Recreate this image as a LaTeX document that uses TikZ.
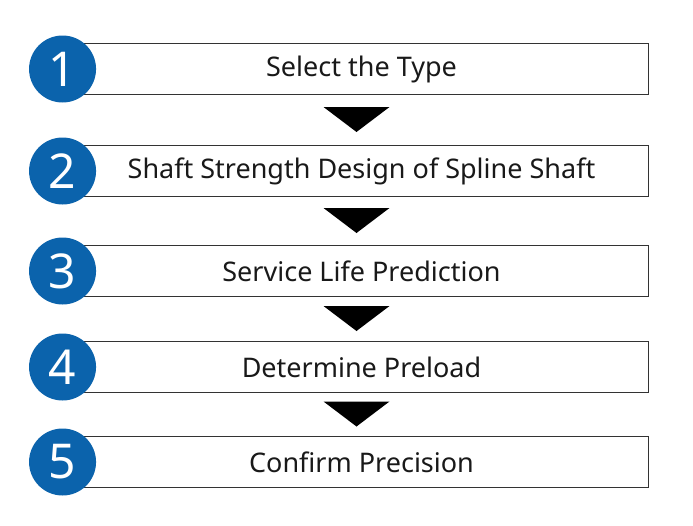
\documentclass[tikz,border=0pt]{standalone}
\usepackage{fontspec}
\setmainfont{Noto Sans}
\usetikzlibrary{positioning,calc}
\definecolor{mblue}{HTML}{0B63AC}
\tikzstyle{l1}=[line width=0.9]
\tikzstyle{stepbox}=[draw=black!80, l1, fill=white, minimum width=583pt, minimum height=51pt, font=\fontsize{27}{30}\selectfont, text=black!90]
\tikzstyle{num}=[circle, fill=mblue, minimum size=67pt, inner sep=0pt, text=white, font=\fontsize{48}{50}\selectfont]
\tikzstyle{tri}=[fill=black]
\begin{document}
\begin{tikzpicture}[x=1pt, y=-1pt]
    \useasboundingbox (0,0) rectangle (693,525);
    \node[stepbox] at (356.5,69) (s1) {\hspace*{10pt}Select the Type};
    \node[stepbox] at (356.5,171) (s2) {\hspace*{10pt}Shaft Strength Design of Spline Shaft};
    \node[stepbox] at (356.5,271) (s3) {\hspace*{10pt}Service Life Prediction};
    \node[stepbox] at (356.5,367) (s4) {\hspace*{10pt}Determine Preload};
    \node[stepbox] at (356.5,462) (s5) {\hspace*{10pt}Confirm Precision};

    \foreach \i in {1,...,5} {
        \node[num] at (s\i.west) [xshift=-2pt] (n\i) {\i};
    }

    % arrows between steps
    \foreach \a/\b in {1/2,2/3,3/4,4/5} {
        \coordinate (m\a) at ($(s\a.south)!0.5!(s\b.north)$);
        \fill[tri] ([xshift=-33pt, yshift=13pt]m\a) -- ([xshift=33pt, yshift=13pt]m\a) -- ([yshift=-12pt]m\a) -- cycle;
    }
\end{tikzpicture}
\end{document}
